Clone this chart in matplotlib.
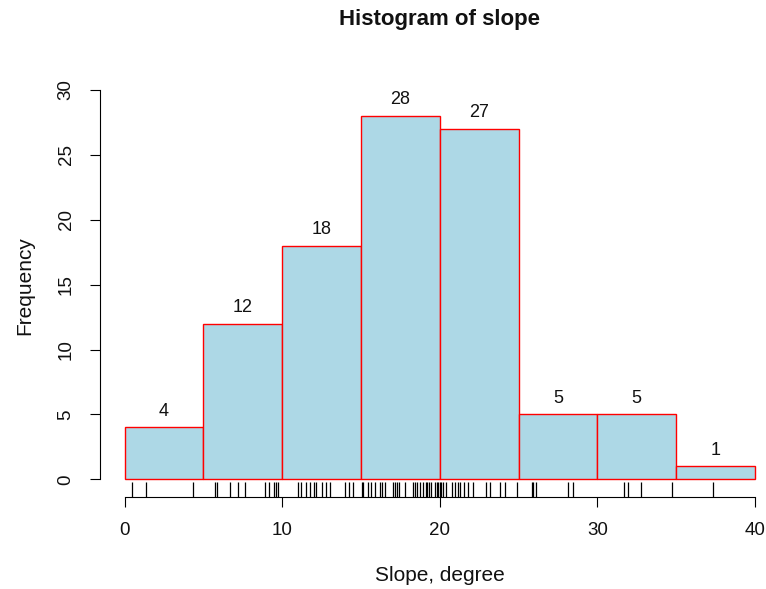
import numpy as np
import matplotlib
matplotlib.use("Agg")
import matplotlib.pyplot as plt

plt.rcParams["font.family"] = ["Liberation Sans", "DejaVu Sans"]

# histogram of slope (bins of 5 degrees)
bin_edges = [0, 5, 10, 15, 20, 25, 30, 35, 40]
counts = [4, 12, 18, 28, 27, 5, 5, 1]

# rug marks
rug_values = [0.44, 1.33, 4.34, 5.74, 5.86, 6.67, 7.2, 7.62, 8.91, 9.17, 9.46,
              9.63, 9.74, 11.0, 11.2, 11.5, 11.75, 12.0, 12.17, 12.5, 12.76,
              13.02, 13.97, 14.24, 14.5, 15.03, 15.1, 15.45, 15.66, 15.87,
              16.19, 16.3, 16.5, 17.04, 17.14, 17.29, 17.42, 17.78, 18.31,
              18.41, 18.56, 18.73, 18.94, 19.11, 19.2, 19.33, 19.47, 19.68,
              19.79, 19.9, 20.0, 20.1, 20.2, 20.42, 20.74, 20.95, 21.16,
              21.27, 21.52, 21.8, 22.12, 22.96, 23.17, 23.81, 24.13, 24.87,
              25.82, 25.93, 26.1, 28.15, 28.46, 31.7, 31.92, 32.74, 34.75,
              37.35]

x_ticks = [0, 10, 20, 30, 40]
y_ticks = [0, 5, 10, 15, 20, 25, 30]

W, H = 766, 589
fig = plt.figure(figsize=(W / 100, H / 100), dpi=100)
left, right, top, bottom = 99.5, 780.2, 74.4, 496.7
ax = fig.add_axes([left / W, 1 - bottom / H, (right - left) / W, (bottom - top) / H])

edges = np.array(bin_edges)
ax.bar(edges[:-1], counts, width=np.diff(edges), align="edge",
       color="#ADD8E6", edgecolor="red", linewidth=1.0, zorder=2)

for x0, x1, c in zip(edges[:-1], edges[1:], counts):
    ax.annotate(str(c), ((x0 + x1) / 2, c), xytext=(0, 11.5),
                textcoords="offset points", ha="center", va="center",
                fontsize=13, color="#111111")

# rug along the bottom
ax.vlines(rug_values, 0, 0.035, transform=ax.get_xaxis_transform(),
          color="black", linewidth=0.9, zorder=3)

ax.set_xlim(-1.6, 41.6)
ax.set_ylim(-1.34, 31.2)
for s in ["top", "right"]:
    ax.spines[s].set_visible(False)
ax.spines["left"].set_bounds(0, 30)
ax.spines["bottom"].set_bounds(0, 40)
for s in ["left", "bottom"]:
    ax.spines[s].set_linewidth(0.8)

ax.set_xticks(x_ticks)
ax.set_yticks(y_ticks)
ax.tick_params(axis="both", direction="out", length=7.5, width=0.8,
               labelsize=13.5, pad=10.5, colors="black", labelcolor="#111111")
plt.setp(ax.get_yticklabels(), rotation=90, va="center")

ax.set_xlabel("Slope, degree", fontsize=15, labelpad=20, color="#111111")
ax.set_ylabel("Frequency", fontsize=15, labelpad=17, color="#111111")
fig.text(0.5 * (left + right) / W, 1 - 25 / H, "Histogram of slope",
         ha="center", va="baseline", fontsize=16, fontweight="bold",
         color="#111111")

fig.savefig("out.png", dpi=100)
